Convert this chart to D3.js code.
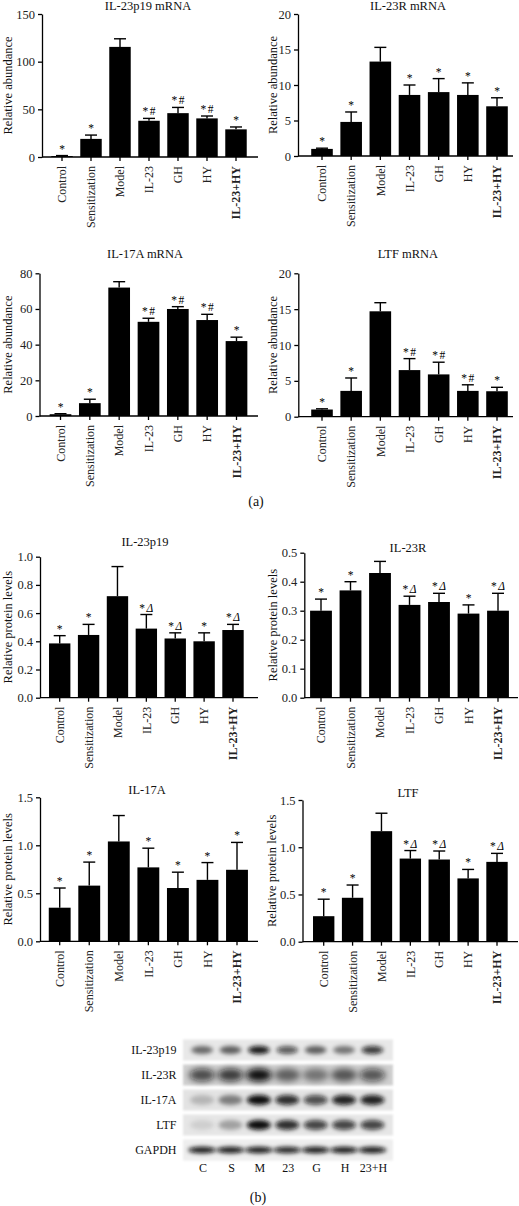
<!DOCTYPE html>
<html><head><meta charset="utf-8">
<script src="https://cdn.jsdelivr.net/npm/d3@7"></script>
<style>
body{margin:0;background:#fff}
svg{display:block}
svg text{font-family:"Liberation Serif","DejaVu Serif",serif;fill:#111}
</style>
</head><body>
<svg id="c" width="519" height="1206" font-family="Liberation Serif, DejaVu Serif, serif"></svg>
<script>
// ---------- DATA ----------
const categories = ["Control","Sensitization","Model","IL-23","GH","HY","IL-23+HY"];

const p19mRNA    = [1, 19, 115.5, 38, 46, 40.5, 29];
const p19mRNAErr = [0.5, 4, 8.5, 2.5, 6, 2.5, 2.5];
const p19mRNASig = ["*","*","","*#","*#","*#","*"];

const rmRNA    = [1, 4.8, 13.3, 8.6, 9.0, 8.6, 7.0];
const rmRNAErr = [0.1, 1.4, 2.0, 1.4, 1.9, 1.7, 1.2];
const rmRNASig = ["*","*","","*","*","*","*"];

const a17mRNA    = [1, 7.2, 72, 52.8, 60, 53.8, 42];
const a17mRNAErr = [0.3, 2.2, 3.3, 2, 1.3, 3.2, 2.2];
const a17mRNASig = ["*","*","","*#","*#","*#","*"];

const ltfmRNA    = [1, 3.6, 14.7, 6.5, 5.9, 3.6, 3.55];
const ltfmRNAErr = [0.1, 1.8, 1.2, 1.6, 1.7, 0.85, 0.55];
const ltfmRNASig = ["*","*","","*#","*#","*#","*"];

const p19Prot    = [0.385, 0.445, 0.72, 0.49, 0.42, 0.40, 0.48];
const p19ProtErr = [0.055, 0.075, 0.21, 0.10, 0.04, 0.06, 0.04];
const p19ProtSig = ["*","*","","*Δ","*Δ","*","*Δ"];

const rProt    = [0.30, 0.37, 0.43, 0.32, 0.33, 0.29, 0.30];
const rProtErr = [0.04, 0.03, 0.04, 0.03, 0.03, 0.03, 0.06];
const rProtSig = ["*","*","","*Δ","*Δ","*","*Δ"];

const a17Prot    = [0.35, 0.58, 1.04, 0.77, 0.555, 0.64, 0.745];
const a17ProtErr = [0.205, 0.245, 0.27, 0.2, 0.165, 0.18, 0.285];
const a17ProtSig = ["*","*","","*","*","*","*"];

const ltfProt    = [0.27, 0.465, 1.17, 0.88, 0.87, 0.67, 0.845];
const ltfProtErr = [0.18, 0.135, 0.19, 0.085, 0.09, 0.095, 0.09];
const ltfProtSig = ["*","*","","*Δ","*Δ","*","*Δ"];

const ticksP19mRNA = [0, 50, 100, 150];
const ticksRmRNA   = [0, 5, 10, 15, 20];
const ticks17mRNA  = [0, 20, 40, 60, 80];
const ticksLtfmRNA = [0, 5, 10, 15, 20];
const ticksP19Prot = [0, 0.2, 0.4, 0.6, 0.8, 1.0];
const ticksRProt   = [0, 0.1, 0.2, 0.3, 0.4, 0.5];
const ticks17Prot  = [0, 0.5, 1.0, 1.5];
const ticksLtfProt = [0, 0.5, 1.0, 1.5];

const blotProteins = ["IL-23p19","IL-23R","IL-17A","LTF","GAPDH"];
const blotLanes    = ["C","S","M","23","G","H","23+H"];
const bandP19   = [0.55, 0.6, 0.95, 0.65, 0.6, 0.5, 0.8];
const bandR     = [0.7, 0.78, 1.0, 0.55, 0.45, 0.6, 0.65];
const band17A   = [0.2, 0.45, 1.0, 0.85, 0.7, 0.9, 0.9];
const bandLTF   = [0.1, 0.3, 1.0, 0.85, 0.75, 0.75, 0.75];
const bandGAPDH = [0.95, 0.95, 0.95, 0.9, 0.95, 0.95, 0.95];

// ---------- LAYOUT ----------
const svg = d3.select("#c");
const defs = svg.append("defs");
defs.append("filter").attr("id","blur").attr("x","-50%").attr("y","-100%").attr("width","200%").attr("height","300%")
  .append("feGaussianBlur").attr("stdDeviation",2);
defs.append("filter").attr("id","blur2").attr("x","-50%").attr("y","-100%").attr("width","200%").attr("height","300%")
  .append("feGaussianBlur").attr("stdDeviation",3);
defs.append("filter").attr("id","soft").attr("x","-5%").attr("y","-20%").attr("width","110%").attr("height","140%")
  .append("feGaussianBlur").attr("stdDeviation",1);

const panels = [
 {title:"IL-23p19 mRNA", ylabel:"Relative abundance", v:p19mRNA, e:p19mRNAErr, s:p19mRNASig, ticks:ticksP19mRNA, fmt:d3.format("d"),
  ax:42, xEnd:258, c0:62, c6:236, y0:157, yTop:14, tx:148, ty:10, lx:8},
 {title:"IL-23R mRNA", ylabel:"Relative abundance", v:rmRNA, e:rmRNAErr, s:rmRNASig, ticks:ticksRmRNA, fmt:d3.format("d"),
  ax:298, xEnd:513, c0:322, c6:497, y0:156, yTop:14, tx:408, ty:10, lx:273},
 {title:"IL-17A mRNA", ylabel:"Relative abundance", v:a17mRNA, e:a17mRNAErr, s:a17mRNASig, ticks:ticks17mRNA, fmt:d3.format("d"),
  ax:39.5, xEnd:258, c0:60.5, c6:236.5, y0:416, yTop:273.3, tx:145, ty:257.5, lx:8},
 {title:"LTF mRNA", ylabel:"Relative abundance", v:ltfmRNA, e:ltfmRNAErr, s:ltfmRNASig, ticks:ticksLtfmRNA, fmt:d3.format("d"),
  ax:298.3, xEnd:513, c0:322, c6:497, y0:416.7, yTop:273.3, tx:408, ty:257.5, lx:273},
 {title:"IL-23p19", ylabel:"Relative protein levels", v:p19Prot, e:p19ProtErr, s:p19ProtSig, ticks:ticksP19Prot, fmt:d3.format(".1f"),
  ax:40, xEnd:258, c0:59.7, c6:233, y0:697.7, yTop:556.7, tx:145, ty:546, lx:8},
 {title:"IL-23R", ylabel:"Relative protein levels", v:rProt, e:rProtErr, s:rProtSig, ticks:ticksRProt, fmt:d3.format(".1f"),
  ax:304.3, xEnd:518, c0:321, c6:498, y0:697.7, yTop:552.7, tx:408, ty:552, lx:273},
 {title:"IL-17A", ylabel:"Relative protein levels", v:a17Prot, e:a17ProtErr, s:a17ProtSig, ticks:ticks17Prot, fmt:d3.format(".1f"),
  ax:40, xEnd:258, c0:59.7, c6:237, y0:941.3, yTop:797.3, tx:147, ty:794, lx:8},
 {title:"LTF", ylabel:"Relative protein levels", v:ltfProt, e:ltfProtErr, s:ltfProtSig, ticks:ticksLtfProt, fmt:d3.format(".1f"),
  ax:302.5, xEnd:518, c0:323.7, c6:497, y0:941.7, yTop:800, tx:408, ty:797, lx:272}
];

panels.forEach(p => {
  const step = (p.c6 - p.c0) / (categories.length - 1);
  const x = d3.scaleBand().domain(categories)
    .range([p.c0 - step/2, p.c6 + step/2]).paddingInner(0.26).paddingOuter(0.13);
  const y = d3.scaleLinear().domain([0, p.ticks[p.ticks.length-1]]).range([p.y0, p.yTop]);
  const g = svg.append("g");
  const data = categories.map((c,i) => ({c, v:p.v[i], e:p.e[i], s:p.s[i]}));

  g.selectAll("rect.bar").data(data).enter().append("rect")
    .attr("x", d => x(d.c)).attr("width", x.bandwidth())
    .attr("y", d => y(d.v)).attr("height", d => p.y0 - y(d.v))
    .attr("fill", "#000");
  const cap = 6;
  const eb = g.selectAll("g.eb").data(data).enter().append("g");
  eb.append("line")
    .attr("x1", d => x(d.c) + x.bandwidth()/2).attr("x2", d => x(d.c) + x.bandwidth()/2)
    .attr("y1", d => y(d.v)).attr("y2", d => y(d.v + d.e))
    .attr("stroke","#000").attr("stroke-width",1.4);
  eb.append("line")
    .attr("x1", d => x(d.c) + x.bandwidth()/2 - cap).attr("x2", d => x(d.c) + x.bandwidth()/2 + cap)
    .attr("y1", d => y(d.v + d.e)).attr("y2", d => y(d.v + d.e))
    .attr("stroke","#000").attr("stroke-width",1.4);
  const st = g.selectAll("text.sig").data(data.filter(d => d.s)).enter().append("text")
    .attr("x", d => x(d.c) + x.bandwidth()/2)
    .attr("y", d => y(d.v + d.e) - 3)
    .attr("text-anchor","middle").style("font-size","11.5px").style("fill","#000");
  st.each(function(d){
    const t = d3.select(this);
    t.append("tspan").text("*");
    if (d.s.length > 1) {
      const sym = d.s.slice(1);
      t.append("tspan").attr("dx", 1.5).style("font-style", sym === "Δ" ? "italic" : "normal").text(sym);
    }
  });

  const ya = g.append("g").attr("transform", `translate(${p.ax},0)`)
    .call(d3.axisLeft(y).tickValues(p.ticks).tickSize(4).tickPadding(3).tickSizeOuter(0).tickFormat(p.fmt));
  ya.attr("font-family", "Liberation Serif, DejaVu Serif, serif").attr("font-size", null);
  ya.selectAll("text").style("font-size","12.5px").style("fill","#222");
  ya.selectAll("line,path").attr("stroke","#000").attr("stroke-width",1.3);

  const xa = g.append("g").attr("transform", `translate(0,${p.y0})`)
    .call(d3.axisBottom(x).tickSize(4).tickSizeOuter(0));
  xa.attr("font-family", "Liberation Serif, DejaVu Serif, serif").attr("font-size", null);
  xa.select(".domain").attr("d", `M${p.ax},0H${p.xEnd}`);
  xa.selectAll("line,path").attr("stroke","#000").attr("stroke-width",1.3);
  xa.selectAll("text")
    .attr("transform","rotate(-90)").attr("text-anchor","end")
    .attr("x",-9).attr("y",0).attr("dy","0.35em")
    .style("font-size","12px").style("fill","#222")
    .style("font-weight", d => d === "IL-23+HY" ? "bold" : "normal");

  g.append("text").attr("x", p.tx).attr("y", p.ty).attr("text-anchor","middle")
    .style("font-size","12.5px").text(p.title);
  g.append("text").attr("transform", `translate(${p.lx},${(p.y0 + p.yTop)/2}) rotate(-90)`)
    .attr("text-anchor","middle").attr("dy","0.35em")
    .style("font-size","12.5px").text(p.ylabel);
});

svg.append("text").attr("x",256).attr("y",506).attr("text-anchor","middle").style("font-size","14px").text("(a)");

// ---------- BLOT ----------
const lx = d3.scaleBand().domain(blotLanes).range([186.5, 388]).padding(0.1);
const ly = d3.scalePoint().domain(blotProteins).range([1050, 1150]);
const rowStyle = {
  "IL-23p19": {rx:11, ry:4, bg:"#e8e8e8", f:"blur", vals:bandP19},
  "IL-23R":   {rx:13, ry:6.5, bg:"#d0d0d0", f:"blur2", vals:bandR},
  "IL-17A":   {rx:12, ry:5, bg:"#e3e3e3", f:"blur", vals:band17A},
  "LTF":      {rx:12, ry:5, bg:"#e6e6e6", f:"blur", vals:bandLTF},
  "GAPDH":    {rx:14, ry:3.2, bg:"#eeeeee", f:"blur", vals:bandGAPDH}
};
const blot = svg.append("g");
blotProteins.forEach(pr => {
  const rs = rowStyle[pr];
  const cy = ly(pr);
  blot.append("rect").attr("x",183).attr("y",cy-10.5).attr("width",210).attr("height",21)
    .attr("fill", rs.bg).attr("filter","url(#soft)");
  blot.selectAll(null).data(blotLanes).enter().append("ellipse")
    .attr("cx", (d) => lx(d) + lx.bandwidth()/2).attr("cy", cy)
    .attr("rx", rs.rx).attr("ry", rs.ry)
    .attr("fill", "#0a0a0a").attr("fill-opacity", (d,i) => rs.vals[i])
    .attr("filter", `url(#${rs.f})`);
  blot.append("text").attr("x",176.5).attr("y",cy).attr("dy","0.35em").attr("text-anchor","end")
    .style("font-size","12px").text(pr);
});
blot.selectAll("text.lane").data(blotLanes).enter().append("text")
  .attr("x", d => lx(d) + lx.bandwidth()/2 + 1).attr("y", 1172)
  .attr("text-anchor","middle").style("font-size","12px").text(d => d);

svg.append("text").attr("x",258).attr("y",1202).attr("text-anchor","middle").style("font-size","14px").text("(b)");
</script>
</body></html>
